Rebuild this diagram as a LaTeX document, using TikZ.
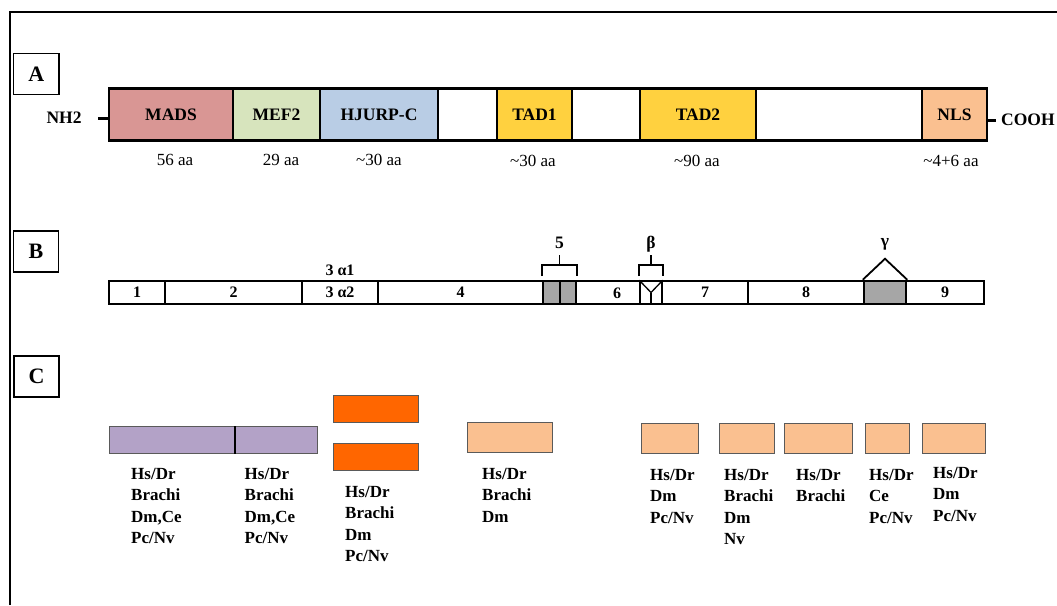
\documentclass[tikz,border=0pt]{standalone}
\usepackage{fontspec}
\setmainfont{Liberation Serif}
\usetikzlibrary{calc}
\definecolor{madsc}{HTML}{D99694}
\definecolor{mefc}{HTML}{D7E4BD}
\definecolor{hjc}{HTML}{B9CDE5}
\definecolor{tadc}{HTML}{FFD13F}
\definecolor{nlsc}{HTML}{FAC090}
\definecolor{purc}{HTML}{B3A2C7}
\definecolor{orc}{HTML}{FF6600}
\definecolor{grc}{HTML}{A6A6A6}
\definecolor{bordc}{HTML}{5A5A5A}
\tikzset{
 dom/.style={draw=black, line width=2.8pt, inner sep=0pt, font=\fontsize{17.5}{20}\selectfont\bfseries},
 ex/.style={draw=black, line width=1.6pt, inner sep=0pt, font=\fontsize{16}{18}\selectfont\bfseries},
 cbox/.style={draw=bordc, line width=1pt, inner sep=0pt},
 lab/.style={draw=black, line width=1.8pt, inner sep=0pt, font=\fontsize{22}{24}\selectfont\bfseries},
 aa/.style={inner sep=0pt, font=\fontsize{17}{20}\selectfont},
 sp/.style={inner sep=0pt, anchor=north west, align=left, font=\fontsize{17}{21.3}\selectfont\bfseries},
 bl/.style={inner sep=0pt, font=\fontsize{17.5}{20}\selectfont\bfseries},
 num/.style={inner sep=0pt, font=\fontsize{16}{18}\selectfont\bfseries},
 conn/.style={line width=3pt},
 brk/.style={line width=1.8pt},
}
\newcommand\seg[7]{\node[#1, minimum width={#4-#3}, minimum height=#6] (#2) at ({(#3+#4)/2},#5) {#7};}
\begin{document}
\begin{tikzpicture}[x=1pt,y=-1pt]
\useasboundingbox (0,0) rectangle (1057,605);
% frame
\coordinate (f0) at (10,12);
\draw[line width=2pt] (f0 |- 0,605) -- (f0) -- (1057,12);
% letter boxes
\node[lab, minimum width=45.5, minimum height=41] (la) at (36.3,74) {A};
\node[lab, minimum width=45, minimum height=41] (lb) at (36,251.5) {B};
\node[lab, minimum width=45, minimum height=41] (lc) at (36.5,376.3) {C};
% ---- A ----
\seg{dom,fill=madsc}{mads}{109}{233}{114.5}{52}{MADS}
\seg{dom,fill=mefc}{mef}{233}{320}{114.5}{52}{MEF2}
\seg{dom,fill=hjc}{hj}{320}{438}{114.5}{52}{HJURP-C}
\seg{dom,fill=white}{w1}{438}{497}{114.5}{52}{}
\seg{dom,fill=tadc}{tad1}{497}{572}{114.5}{52}{TAD1}
\seg{dom,fill=white}{w2}{572}{640}{114.5}{52}{}
\seg{dom,fill=tadc}{tad2}{640}{756}{114.5}{52}{TAD2}
\seg{dom,fill=white}{w3}{756}{922}{114.5}{52}{}
\seg{dom,fill=nlsc}{nls}{922}{987}{114.5}{52}{NLS}
\node[bl] (nh2) at (64,118) {NH2};
\coordinate (nhs) at (98,118);
\draw[conn] (nhs) -- (nhs -| mads.west);
\node[bl, anchor=west] (cooh) at (1001,120) {COOH};
\coordinate (ce) at (996,120);
\draw[conn] (ce -| nls.east) -- (ce);
\node[aa] (aa1) at (175,160) {56 aa};
\node[aa] (aa2) at (281,160) {29 aa};
\node[aa] (aa3) at (379,160) {\textasciitilde30 aa};
\node[aa] (aa4) at (533,161) {\textasciitilde30 aa};
\node[aa] (aa5) at (697,161) {\textasciitilde90 aa};
\node[aa] (aa6) at (951,161) {\textasciitilde4+6 aa};
% ---- B ----
\seg{ex}{e1}{109}{165}{292.5}{23}{1}
\seg{ex}{e2}{165}{302}{292.5}{23}{2}
\seg{ex}{e3}{302}{378}{292.5}{23}{3 α2}
\seg{ex}{e4}{378}{543}{292.5}{23}{4}
\seg{ex,fill=grc}{e5}{543}{576}{292.5}{23}{}
\seg{ex}{e6}{576}{640}{292.5}{23}{}
\seg{ex}{eb}{640}{662}{292.5}{23}{}
\seg{ex}{e7}{662}{748}{292.5}{23}{7}
\seg{ex}{e8}{748}{864}{292.5}{23}{8}
\seg{ex,fill=grc,line width=2.5pt}{eg}{864}{906}{292.5}{23}{}
\seg{ex}{e9}{906}{984}{292.5}{23}{9}
\node[num] (t6) at (617,293) {6};
\node[num] (a1) at (340,270) {3 α1};
\draw[line width=2pt] (e5.north) -- (e5.south);
% bracket 5
\draw[brk] ($(e5.north west)+(0,-4)$) -- ++(0,-11) -| ($(e5.north east)+(0,-4)$);
\draw[brk] ($(e5.north)+(0,-15)$) -- ++(0,-10);
\node[bl] (l5) at ($(e5.north)+(0,-37)$) {5};
% bracket beta
\draw[brk] ($(eb.north west)+(0,-4)$) -- ++(0,-11) -| ($(eb.north east)+(0,-4)$);
\draw[brk] ($(eb.north)+(0,-15)$) -- ++(0,-10);
\node[bl] (lbeta) at ($(eb.north)+(0,-36)$) {β};
\draw[line width=1.3pt] (eb.north west) -- (eb.center) -- (eb.north east);
\draw[line width=1.3pt] (eb.center) -- (eb.south);
% triangle gamma
\draw[brk] (eg.north west) -- ($(eg.north)+(0,-21)$) -- (eg.north east);
\node[bl] (lgam) at ($(eg.north)+(0,-35)$) {γ};
% ---- C ----
\seg{cbox,fill=purc}{p1}{109}{234}{440}{27}{}
\seg{cbox,fill=purc}{p2}{234}{317}{440}{27}{}
\draw[line width=2pt] (p1.north east) -- (p1.south east);
\seg{cbox,fill=orc}{o1}{333}{418}{409}{26.5}{}
\seg{cbox,fill=orc}{o2}{333}{418}{457}{27}{}
\seg{cbox,fill=nlsc}{pc1}{467.5}{552.5}{437.5}{30}{}
\seg{cbox,fill=nlsc}{pc2}{641.6}{698.8}{438.5}{30}{}
\seg{cbox,fill=nlsc}{pc3}{719.3}{774.5}{438.5}{30}{}
\seg{cbox,fill=nlsc}{pc4}{784.7}{852}{438.5}{30}{}
\seg{cbox,fill=nlsc}{pc5}{865}{909.7}{438.5}{30}{}
\seg{cbox,fill=nlsc}{pc6}{922.4}{985.7}{438.5}{30}{}
\node[sp] (s1) at (131,468) {Hs/Dr\\Brachi\\Dm,Ce\\Pc/Nv};
\node[sp] (s2) at (244.5,468) {Hs/Dr\\Brachi\\Dm,Ce\\Pc/Nv};
\node[sp] (s3) at (345,486) {Hs/Dr\\Brachi\\Dm\\Pc/Nv};
\node[sp] (s4) at (482,468) {Hs/Dr\\Brachi\\Dm};
\node[sp] (s5) at (650,469) {Hs/Dr\\Dm\\Pc/Nv};
\node[sp] (s6) at (724,469) {Hs/Dr\\Brachi\\Dm\\Nv};
\node[sp] (s7) at (796,469) {Hs/Dr\\Brachi};
\node[sp] (s8) at (869,469) {Hs/Dr\\Ce\\Pc/Nv};
\node[sp] (s9) at (933,467) {Hs/Dr\\Dm\\Pc/Nv};
\end{tikzpicture}
\end{document}
